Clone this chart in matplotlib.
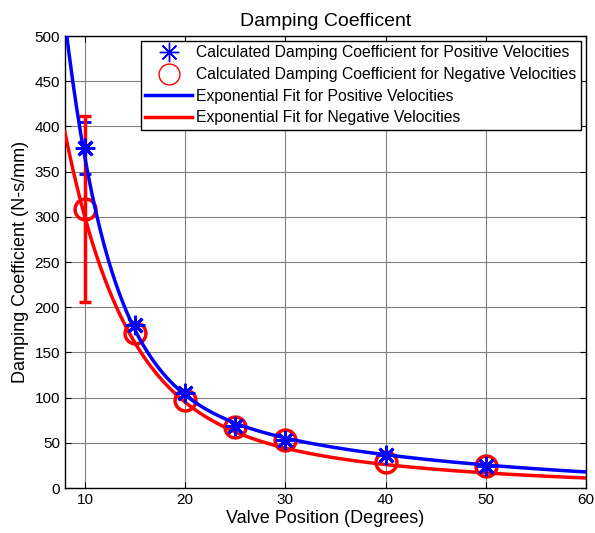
import numpy as np
import matplotlib
matplotlib.use("Agg")
import matplotlib.pyplot as plt

plt.rcParams['font.family'] = ['Liberation Sans', 'DejaVu Sans']

# Data
valve_pos = [10, 15, 20, 25, 30, 40, 50]
damp_pos = [376, 180, 105, 69, 53, 36, 24]
damp_neg = [309, 172, 97, 68, 53, 29, 24]
err_pos = [29, 0, 0, 0, 0, 0, 0]
err_neg = [103, 0, 0, 0, 0, 0, 0]

# Two-term exponential fit coefficients: a*exp(b*x) + c*exp(d*x)
fit_pos = (2376.0, -0.222, 154.0, -0.036)
fit_neg = (1181.0, -0.169, 121.8, -0.040)

xticks = [10, 20, 30, 40, 50, 60]
yticks = list(range(0, 501, 50))

fig = plt.figure(figsize=(5.95, 5.33), dpi=100)
ax = fig.add_axes([0.109, 0.0844, 0.876, 0.848])

xf = np.linspace(8, 60, 400)
def model(p, x):
    a, b, c, d = p
    return a * np.exp(b * x) + c * np.exp(d * x)

xe = [v for v, e in zip(valve_pos, err_pos) if e > 0]
ye = [v for v, e in zip(damp_pos, err_pos) if e > 0]
ee = [e for e in err_pos if e > 0]
ax.errorbar(xe, ye, yerr=ee, fmt='none', ecolor='blue', elinewidth=2, capsize=4, capthick=2, zorder=3)
xe = [v for v, e in zip(valve_pos, err_neg) if e > 0]
ye = [v for v, e in zip(damp_neg, err_neg) if e > 0]
ee = [e for e in err_neg if e > 0]
ax.errorbar(xe, ye, yerr=ee, fmt='none', ecolor='red', elinewidth=2.5, capsize=4, capthick=2.5, zorder=3)

asterisk = (8, 2, 0)
h1, = ax.plot(valve_pos, damp_pos, linestyle='none', marker=asterisk, markersize=14, color='blue',
              markeredgewidth=2, label='Calculated Damping Coefficient for Positive Velocities', zorder=5)
h2, = ax.plot(valve_pos, damp_neg, linestyle='none', marker='o', markersize=15, markerfacecolor='none',
              markeredgecolor='red', markeredgewidth=2.5, label='Calculated Damping Coefficient for Negative Velocities', zorder=4)
h3, = ax.plot(xf, model(fit_pos, xf), color='blue', lw=2.5, label='Exponential Fit for Positive Velocities', zorder=4)
h4, = ax.plot(xf, model(fit_neg, xf), color='red', lw=2.5, label='Exponential Fit for Negative Velocities', zorder=4)

leg = ax.legend(handles=[h1, h2, h3, h4], loc='upper right', fontsize=11.3, frameon=True, fancybox=False,
                edgecolor='black', framealpha=1, borderaxespad=0.3, handlelength=3.0, handletextpad=0.25,
                labelspacing=0.42, borderpad=0.3)
leg.get_frame().set_linewidth(1.0)
lh = leg.legend_handles
lh[0].set_markeredgewidth(1.0)
lh[0].set_markersize(14)
lh[1].set_markeredgewidth(1.0)
lh[1].set_markersize(15)

ax.set_xlim(8, 60)
ax.set_ylim(0, 500)
ax.set_xticks(xticks)
ax.set_yticks(yticks)
ax.tick_params(direction='in', top=True, right=True, labelsize=11, length=4, width=0.8)
ax.grid(True, color='#808080', linewidth=0.8, linestyle='-')
ax.set_axisbelow(True)
for s in ax.spines.values():
    s.set_linewidth(1.0)

ax.set_title('Damping Coefficent', fontsize=14, pad=7)
ax.set_xlabel('Valve Position (Degrees)', fontsize=13, labelpad=2)
ax.set_ylabel('Damping Coefficient (N-s/mm)', fontsize=13, labelpad=4)

fig.savefig('out.png', dpi=100)
